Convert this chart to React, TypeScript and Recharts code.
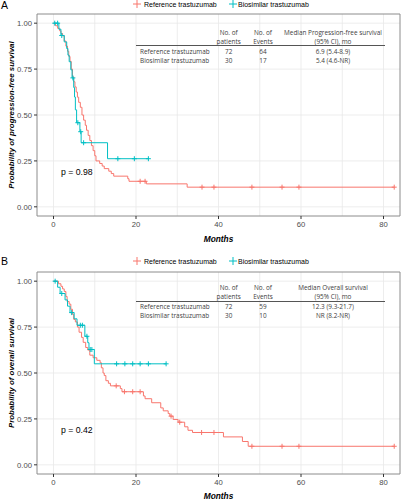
import React from 'react';
import { ComposedChart, Line, Scatter, XAxis, YAxis, CartesianGrid, ReferenceArea } from 'recharts';

const RED = '#F8766D';
const CYAN = '#00BFC4';

const seriesNames = ['Reference trastuzumab', 'Biosimilar trastuzumab'];
const xTicks = [0, 20, 40, 60, 80];
const yTicks = [0, 0.25, 0.5, 0.75, 1];
const xGrid = [0, 10, 20, 30, 40, 50, 60, 70, 80];
const yGrid = [0, 0.125, 0.25, 0.375, 0.5, 0.625, 0.75, 0.875, 1];

// progression-free survival
const pfsRefTime = [0, 0.5, 1.0, 1.5, 1.8, 2.2, 2.6, 3.0, 3.4, 3.7, 4.0, 4.3, 4.6, 4.9, 5.2, 5.5, 5.8, 6.1, 6.5, 6.9, 7.3, 7.7, 8.0, 8.4, 8.8, 9.2, 9.6, 10.0, 10.3, 11.2, 11.8, 12.3, 13.4, 14.0, 14.6, 18.0, 18.3, 22.5, 32.4, 82.6];
const pfsRefSurv = [1, 0.986, 0.972, 0.958, 0.944, 0.931, 0.903, 0.875, 0.847, 0.819, 0.792, 0.75, 0.708, 0.681, 0.653, 0.625, 0.597, 0.569, 0.542, 0.5, 0.472, 0.444, 0.417, 0.389, 0.361, 0.333, 0.306, 0.278, 0.25, 0.236, 0.222, 0.208, 0.194, 0.181, 0.167, 0.153, 0.139, 0.125, 0.107, 0.107];
const pfsRefCensor = [21.0, 22.2, 36.0, 38.9, 48.1, 55.4, 59.5, 82.6];
const pfsBioTime = [0, 1.3, 1.8, 2.6, 3.2, 3.5, 3.8, 4.2, 4.5, 4.9, 5.1, 5.3, 5.6, 6.4, 6.7, 13.1, 23.0];
const pfsBioSurv = [1, 0.967, 0.933, 0.898, 0.862, 0.826, 0.79, 0.746, 0.702, 0.65, 0.598, 0.528, 0.458, 0.409, 0.349, 0.262, 0.262];
const pfsBioCensor = [0.3, 1.0, 2.0, 4.7, 5.9, 6.6, 7.3, 15.6, 19.6, 23.0];

// overall survival
const osRefTime = [0, 1.2, 1.8, 2.2, 2.6, 3.0, 3.3, 3.8, 4.2, 4.6, 4.9, 5.3, 5.8, 6.2, 6.8, 7.2, 7.8, 8.3, 8.8, 9.6, 10.5, 11.3, 11.6, 12.0, 12.3, 12.7, 13.3, 13.8, 16.2, 16.6, 21.8, 22.2, 23.8, 26.0, 26.6, 27.8, 28.2, 29.0, 30.2, 31.8, 32.6, 33.7, 41.2, 45.8, 47.2, 82.6];
const osRefSurv = [1, 0.986, 0.972, 0.958, 0.944, 0.917, 0.889, 0.875, 0.847, 0.819, 0.792, 0.778, 0.75, 0.722, 0.694, 0.667, 0.639, 0.625, 0.597, 0.583, 0.569, 0.556, 0.528, 0.5, 0.486, 0.458, 0.444, 0.43, 0.415, 0.398, 0.375, 0.36, 0.338, 0.31, 0.294, 0.279, 0.265, 0.247, 0.232, 0.207, 0.188, 0.176, 0.152, 0.127, 0.101, 0.101];
const osRefCensor = [15.2, 17.2, 19.2, 21.0, 28.5, 30.6, 35.9, 38.9, 48.1, 55.4, 59.5, 82.6];
const osBioTime = [0, 1.0, 1.6, 2.8, 3.4, 4.0, 5.0, 5.7, 7.6, 8.3, 8.6, 9.9, 27.3];
const osBioSurv = [1, 0.967, 0.933, 0.898, 0.864, 0.829, 0.795, 0.76, 0.7, 0.665, 0.628, 0.55, 0.55];
const osBioCensor = [0.4, 2.0, 4.4, 6.5, 7.0, 8.1, 8.9, 9.3, 15.3, 17.3, 19.2, 21.0, 23.0, 27.3];

// table rows: patients, events, median
const pfsTable = [['72', '64', '6.9 (5.4-8.9)'], ['30', '17', '5.4 (4.6-NR)']];
const osTable = [['72', '59', '12.3 (9.3-21.7)'], ['30', '10', 'NR (8.2-NR)']];

const curve = (time: number[], surv: number[]) => time.map((t, i) => ({ t, s: surv[i] }));
const survAt = (time: number[], surv: number[], t: number) => {
  let s = surv[0];
  time.forEach((tt, i) => { if (tt <= t) s = surv[i]; });
  return s;
};
const censors = (time: number[], surv: number[], cens: number[]) => cens.map(t => ({ t, s: survAt(time, surv, t) }));

const Plus = (props: any) => {
  const { cx, cy, fill } = props;
  return (
    <g stroke={fill} strokeWidth={1}>
      <line x1={cx - 2.5} x2={cx + 2.5} y1={cy} y2={cy} />
      <line x1={cx} x2={cx} y1={cy - 2.5} y2={cy + 2.5} />
    </g>
  );
};

const LegendPlus = ({ color }: { color: string }) => (
  <svg width={8} height={8} style={{ display: 'block' }}>
    <line x1={0} x2={8} y1={4} y2={4} stroke={color} strokeWidth={1} />
    <line x1={4} x2={4} y1={0} y2={8} stroke={color} strokeWidth={1} />
  </svg>
);

const C = (x: number, y: number, text: string, style: any = {}) => (
  <div style={{ position: 'absolute', left: x, top: y, transform: 'translate(-50%,-50%)', whiteSpace: 'nowrap', lineHeight: 1, ...style }}>{text}</div>
);
const L = (x: number, y: number, text: string, style: any = {}) => (
  <div style={{ position: 'absolute', left: x, top: y, transform: 'translateY(-50%)', whiteSpace: 'nowrap', lineHeight: 1, ...style }}>{text}</div>
);

const tickStyle = { fill: '#4D4D4D', fontSize: 7.7, fontFamily: '"Liberation Sans", Arial, sans-serif' };
const tableFont = { fontFamily: '"Open Sans", sans-serif', fontSize: 6.4, color: '#404040' };

const Panel = (p: any) => (
  <div style={{ position: 'absolute', left: 0, top: p.top, width: 403, height: p.height }}>
    <ComposedChart width={403} height={p.height} margin={{ top: p.plotTop, right: 3, left: 0, bottom: 0 }}>
      <CartesianGrid stroke="#E9E9E9" strokeWidth={0.8} horizontalValues={yGrid} verticalValues={xGrid} />
      <XAxis type="number" dataKey="t" domain={[-4, 84]} ticks={xTicks} allowDataOverflow height={p.xHeight}
        tick={tickStyle} tickSize={3} tickMargin={3} axisLine={false} tickLine={{ stroke: '#333' }} />
      <YAxis type="number" dataKey="s" domain={[-0.05, 1.05]} ticks={yTicks} allowDataOverflow width={37}
        tick={tickStyle} tickSize={3} tickMargin={2} axisLine={false} tickLine={{ stroke: '#333' }}
        tickFormatter={(v: number) => v.toFixed(2)} />
      <Line data={p.ref} dataKey="s" type="stepAfter" stroke={RED} strokeWidth={1} dot={false} isAnimationActive={false} />
      <Line data={p.bio} dataKey="s" type="stepAfter" stroke={CYAN} strokeWidth={1} dot={false} isAnimationActive={false} />
      <Scatter data={p.refC} fill={RED} shape={<Plus />} isAnimationActive={false} />
      <Scatter data={p.bioC} fill={CYAN} shape={<Plus />} isAnimationActive={false} />
      <ReferenceArea x1={-4} x2={84} y1={-0.05} y2={1.05} fill="#fff" fillOpacity={0} stroke="#8C8C8C" strokeWidth={1} />
    </ComposedChart>
  </div>
);

const Overlay = (o: any) => {
  const f = { fontFamily: '"Liberation Sans", Arial, sans-serif' };
  return (
    <>
      {L(1, o.letterY, o.letter, { ...f, fontSize: 10.5, color: '#000' })}
      <div style={{ position: 'absolute', left: 133, top: o.legendY - 4 }}><LegendPlus color={RED} /></div>
      {L(144, o.legendY, seriesNames[0], { ...f, fontSize: 7, color: '#000' })}
      <div style={{ position: 'absolute', left: 228.5, top: o.legendY - 4 }}><LegendPlus color={CYAN} /></div>
      {L(238, o.legendY, seriesNames[1], { ...f, fontSize: 7, color: '#000' })}
      {C(228.7, o.h1, 'No. of', tableFont)}
      {C(228.7, o.h2, 'patients', tableFont)}
      {C(263, o.h1, 'No. of', tableFont)}
      {C(263, o.h2, 'Events', tableFont)}
      {C(333, o.h1, o.medianTitle, tableFont)}
      {C(333, o.h2, '(95% CI), mo', tableFont)}
      <div style={{ position: 'absolute', left: 136, top: o.lineY, width: 249, height: 1, background: '#555' }} />
      {o.rows.map((r: string[], i: number) => (
        <React.Fragment key={i}>
          {L(140, o.rowY[i], seriesNames[i], tableFont)}
          {C(228.7, o.rowY[i], r[0], tableFont)}
          {C(263, o.rowY[i], r[1], tableFont)}
          {C(333, o.rowY[i], r[2], tableFont)}
        </React.Fragment>
      ))}
      {L(61, o.pY, o.pText, { ...f, fontSize: 8.7, color: '#000' })}
      {C(12, o.yTitleY, o.yTitle, { ...f, fontSize: 7.9, fontWeight: 'bold', fontStyle: 'italic', transform: 'translate(-50%,-50%) rotate(-90deg)' })}
      {C(218.5, o.monthsY, 'Months', { ...f, fontSize: 8.3, fontWeight: 'bold', fontStyle: 'italic' })}
    </>
  );
};

export default function App() {
  return (
    <div style={{ position: 'absolute', left: 0, top: 0, width: 403, height: 500, background: '#fff', overflow: 'hidden' }}>
      <Panel top={0} height={245} plotTop={14} xHeight={29}
        ref={curve(pfsRefTime, pfsRefSurv)} bio={curve(pfsBioTime, pfsBioSurv)}
        refC={censors(pfsRefTime, pfsRefSurv, pfsRefCensor)} bioC={censors(pfsBioTime, pfsBioSurv, pfsBioCensor)} />
      <Panel top={245} height={255} plotTop={27} xHeight={26}
        ref={curve(osRefTime, osRefSurv)} bio={curve(osBioTime, osBioSurv)}
        refC={censors(osRefTime, osRefSurv, osRefCensor)} bioC={censors(osBioTime, osBioSurv, osBioCensor)} />
      <Overlay letter="A" letterY={5} legendY={4} h1={32.7} h2={41.5} lineY={45} rowY={[51.7, 61]}
        medianTitle="Median Progression-free survival" rows={pfsTable} pText="p = 0.98" pY={171.7}
        yTitle="Probability of progression-free survival" yTitleY={115} monthsY={239} />
      <Overlay letter="B" letterY={261} legendY={260.7} h1={288.3} h2={297} lineY={301} rowY={[306.7, 316]}
        medianTitle="Median Overall survival" rows={osTable} pText="p = 0.42" pY={430}
        yTitle="Probability of overall survival" yTitleY={373} monthsY={496} />
    </div>
  );
}
